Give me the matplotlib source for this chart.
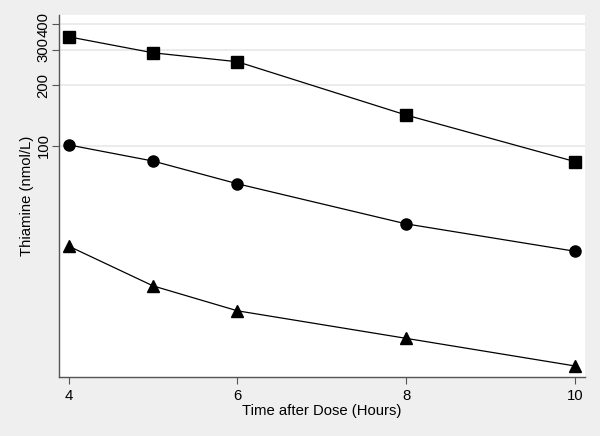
import matplotlib
matplotlib.use("Agg")
import matplotlib.pyplot as plt
from matplotlib.ticker import FixedLocator, NullLocator

plt.rcParams['font.family'] = ['Liberation Sans', 'DejaVu Sans']

hours = [4, 5, 6, 8, 10]
squares = [347, 289, 261, 142, 83.5]
circles = [101, 84, 64.8, 41, 30]
triangles = [31.8, 20.2, 15.2, 11.1, 8.1]

y_ticks = [100, 200, 300, 400]
x_ticks = [4, 6, 8, 10]

fig = plt.figure(figsize=(6, 4.36), dpi=100, facecolor='#efefef')
ax = fig.add_axes([59 / 600, 1 - 377 / 436, (585 - 59) / 600, (377 - 15) / 436])
ax.set_facecolor('white')

ax.plot(hours, squares, color='black', lw=0.9, marker='s', ms=8)
ax.plot(hours, circles, color='black', lw=0.9, marker='o', ms=8)
ax.plot(hours, triangles, color='black', lw=0.9, marker='^', ms=9)

ax.set_yscale('log')
ax.set_ylim(7.14, 445)
ax.set_xlim(3.885, 10.12)
ax.yaxis.set_major_locator(FixedLocator(y_ticks))
ax.yaxis.set_minor_locator(NullLocator())
ax.set_yticklabels([str(t) for t in y_ticks], rotation=90, va='center')
ax.set_xticks(x_ticks)
ax.grid(axis='y', color='#e8e8e8', lw=1.2)
ax.set_axisbelow(True)

for s in ['top', 'right']:
    ax.spines[s].set_visible(False)
for s in ['left', 'bottom']:
    ax.spines[s].set_color('#555555')
    ax.spines[s].set_linewidth(1.0)

ax.tick_params(axis='both', labelsize=10.7, length=5, color='#555555', width=0.8)
ax.tick_params(axis='y', pad=1)
ax.set_xlabel('Time after Dose (Hours)', fontsize=10.7, labelpad=1)
ax.set_ylabel('Thiamine (nmol/L)', fontsize=10.7, labelpad=2)

fig.savefig('out.png', dpi=100, facecolor=fig.get_facecolor())
